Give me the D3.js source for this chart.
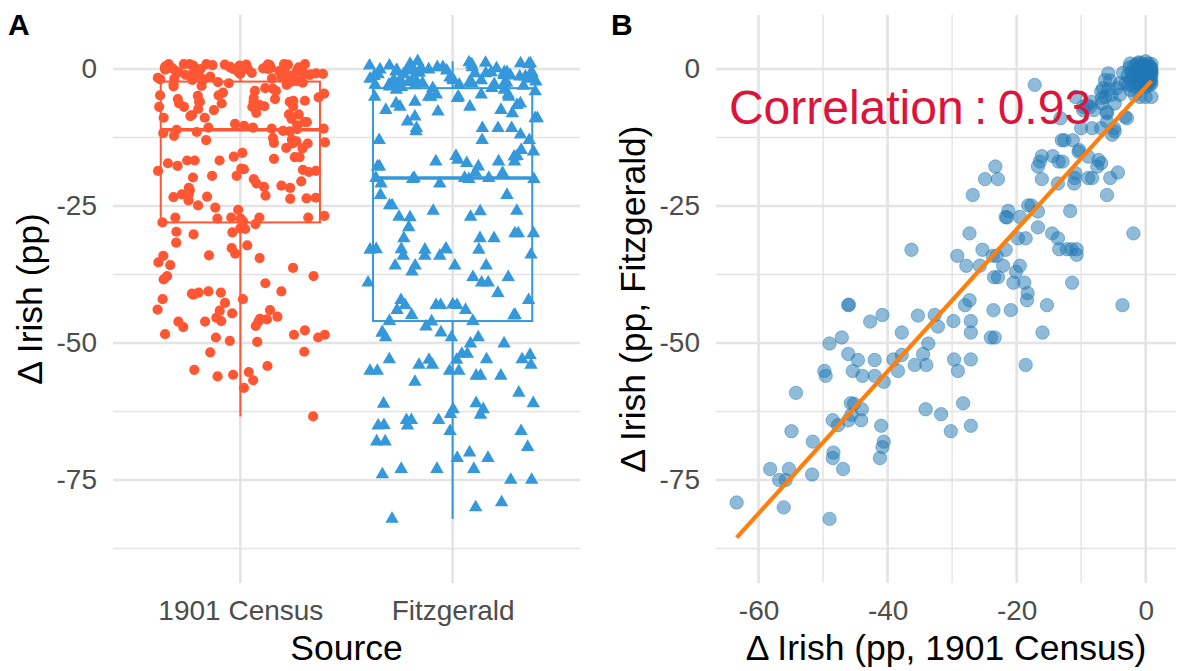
<!DOCTYPE html>
<html>
<head>
<meta charset="utf-8">
<script src="https://cdn.jsdelivr.net/npm/d3@7"></script>
<style>
  body { margin: 0; background: #fff; }
  svg text { font-family: "Liberation Sans", Arial, Helvetica, sans-serif; }
</style>
</head>
<body>
<svg id="chart" width="1178" height="671"></svg>
<script>
// ---- data: change in Irish speakers (percentage points), one entry per district ----
const sources = ["1901 Census", "Fitzgerald"];

const censusChange = [
  -63.4,-56.1,-49.0,-58.2,-55.3,-56.8,-55.8,-51.7,-54.9,-51.6,-48.4,-48.5,-46.9,-40.6,-40.8,-41.2,-41.0,-54.2,-45.7,-45.2,
  -44.0,-45.6,-48.5,-47.7,-46.1,-44.1,-34.1,-49.8,-49.6,-49.0,-47.1,-46.1,-44.6,-42.0,-45.4,-43.9,-42.0,-40.6,-39.1,-37.8,
  -38.4,-35.8,-34.5,-34.0,-33.7,-46.1,-46.0,-42.7,-40.8,-35.3,-37.8,
  -32.7,-32.2,-29.8,-28.0,-27.3,-27.1,-27.1,-23.6,-20.9,-24.0,-23.4,-18.4,-15.3,-16.0,-3.6,-29.7,-27.1,-29.1,-18.6,-31.7,
  -28.3,-30.2,-27.1,
  -26.8,-24.9,-23.3,-22.9,-21.3,-21.7,-21.5,-19.5,-18.2,-17.7,-16.7,-16.7,-27.3,-19.8,-18.6,-29.2,-25.3,-27.8,-25.7,-23.7,
  -23.1,-21.7,-22.1,-23.5,-22.9,-20.5,-19.5,-20.1,-18.8,-18.3,-14.5,-13.6,-13.4,-12.2,-11.5,-10.7,-11.7,-11.4,-10.7,-36.3,
  -1.9,
  -16.1,-16.4,-16.7,-16.1,-14.4,-13.5,-12.9,-13.6,-13.0,-12.6,-11.3,-10.4,-11.0,-11.1,-17.2,-10.9,-13.2,-9.7,-8.6,-8.0,
  -10.0,-8.3,-6.9,-4.9,-5.2,-6.3,-6.0,-3.2,-10.3,-10.9,-8.9,-8.9,-8.3,-7.5,-6.9,-5.5,-4.3,-6.0,-7.3,
  -5.8,-3.5,-6.3,-5.5,-4.0,-6.6,-5.8,-4.5,-3.1,-6.9,-5.3,-4.0,-2.4,-1.7,-0.9,0.0,0.9,-6.8,-9.1,-8.4,
  -6.8,-4.8,-9.7,-6.0,-2.9,-6.0,-4.8,
  -2.8,-2.6,-2.5,-2.3,-2.2,-2.0,-1.9,-1.8,-1.7,-1.6,-1.5,-1.4,-1.3,-1.2,-1.1,-1.0,-0.9,-0.9,-0.8,-0.7,
  -0.7,-0.6,-0.5,-0.5,-0.4,-0.4,-0.3,-0.3,-0.2,-0.2,-0.1,-0.1,0.0,0.0,0.0,0.1,0.1,0.2,0.2,0.3,
  0.3,0.4,0.4,0.5,0.5,0.6,0.6,0.7,0.7,0.8,0.8,0.9,0.9,0.9,0.85,0.8,0.9,0.9,-2.4,-1.1
];

const fitzgeraldChange = [
  -79.1,-80.0,-82.1,-73.0,-73.0,-75.0,-75.0,-74.0,-66.1,-68.0,-70.0,-71.0,-73.0,-68.0,-69.0,-71.0,-65.1,-59.1,-61.0,-61.1,
  -62.1,-63.1,-64.1,-65.0,-64.1,-64.1,-62.1,-55.1,-56.0,-50.1,-49.0,-52.0,-53.1,-53.1,-55.1,-56.0,-56.0,-57.1,-53.0,-52.2,
  -55.1,-54.0,-52.0,-54.0,-50.1,-43.1,-43.0,-46.1,-44.9,-45.0,-48.1,
  -44.9,-47.0,-46.0,-43.1,-42.2,-46.0,-48.1,-44.0,-44.0,-49.0,-49.0,-42.2,-43.1,-48.1,-43.1,-53.0,-53.0,-55.1,-54.0,-63.0,
  -61.0,-66.1,-65.1,
  -23.0,-20.1,-17.8,-20.1,-25.9,-27.0,-27.1,-27.0,-24.9,-24.9,-26.0,-28.9,-30.0,-30.9,-30.9,-34.1,-33.0,-35.9,-35.9,-34.1,
  -34.1,-33.0,-35.9,-38.0,-38.0,-39.0,-35.9,-37.0,-39.0,-40.9,-30.0,-30.9,-32.9,-32.9,-32.9,-32.9,-25.9,-39.0,-33.9,-33.0,
  -30.0,
  -15.9,-16.9,-17.8,-20.1,-15.9,-16.9,-16.9,-20.9,-13.0,-13.0,-13.0,-15.1,-19.9,-20.9,-2.9,-5.1,-9.0,-6.9,-6.9,-7.5,
  -10.8,-10.8,-10.8,-10.8,-12.0,-5.1,-8.1,-8.7,-14.8,-19.0,-16.0,-19.9,-19.9,-17.8,-17.2,-19.9,-18.9,-23.0,-16.6,
  -0.8,-0.7,-2.0,-2.1,-2.6,-3.5,-3.8,-3.5,-2.6,-4.1,-4.7,-4.7,-3.8,-4.7,-5.1,-5.1,-5.1,-5.3,-6.6,-6.0,
  -6.3,-6.3,-7.5,-7.8,-9.0,-9.6,-11.4,
  -1.2,-2.9,0.3,-2.0,-0.6,-3.1,-1.4,0.6,-2.5,-0.2,-1.8,0.9,-3.3,-1.0,-2.2,0.2,-0.7,-2.8,1.1,-1.5,
  -0.3,-2.4,0.5,-1.1,-3.0,-0.1,-1.9,0.8,-0.6,-2.6,-1.3,0.3,-0.9,1.4,-2.1,-0.2,-3.2,0.6,-1.6,-0.5,
  -2.5,1.0,-1.1,0.1,-1.9,-0.8,-2.9,0.4,-1.4,-0.3,-2.3,0.9,-1.0,-0.1,-1.8,0.3,-0.6,-2.7,1.0,1.2
];

// box-plot summaries per source: lower hinge, median, upper hinge
const boxLowerHinge = [-28.0, -46.0];
const boxMedian     = [-11.1, -19.9];
const boxUpperHinge = [-2.3, -3.5];

// linear fit of Fitzgerald on census change: [intercept, slope]
const fitCoefficients = [-3.34, 1.296];
const correlation = 0.93;

// axis ticks
const yMajorTicks = [0, -25, -50, -75];
const yMinorTicks = [-12.5, -37.5, -62.5, -87.5];
const xMajorTicksB = [-60, -40, -20, 0];
const xMinorTicksB = [-50, -30, -10];

// ---- layout ----
const colors = { "1901 Census": "#FF5733", "Fitzgerald": "#3498DB" };
const scatterColor = "#1F77B4";
const gridColor = "#E4E4E4";

const panelA = { left: 113, right: 580, top: 15, bottom: 583 };
const panelB = { left: 716, right: 1176, top: 15, bottom: 583 };

const svg = d3.select("#chart");

const y = d3.scaleLinear().domain([-93.8, 9.85]).range([panelA.bottom, panelA.top]);
const xA = d3.scalePoint().domain(sources).range([panelA.left, panelA.right]).padding(0.6);
const xB = d3.scaleLinear().domain([-66.6, 4.7]).range([panelB.left, panelB.right]);

const tickFont = 28, titleFont = 35.5;

function hGrid(panel, ticks, width) {
  svg.append("g").selectAll("line").data(ticks).join("line")
    .attr("x1", panel.left).attr("x2", panel.right)
    .attr("y1", d => y(d)).attr("y2", d => y(d))
    .attr("stroke", gridColor).attr("stroke-width", width);
}

// ---------- Panel A: distributions by source ----------
hGrid(panelA, yMinorTicks, 1.4);
hGrid(panelA, yMajorTicks, 2.6);
svg.append("g").selectAll("line").data(sources).join("line")
  .attr("x1", d => xA(d)).attr("x2", d => xA(d))
  .attr("y1", panelA.top).attr("y2", panelA.bottom)
  .attr("stroke", gridColor).attr("stroke-width", 2.6);

const step = xA.step();
const boxW = step * 0.75;
const seriesBySource = [censusChange, fitzgeraldChange];

const boxes = svg.append("g");
sources.forEach((s, i) => {
  const cx = xA(s), col = colors[s];
  const vals = seriesBySource[i];
  const lo = d3.min(vals), hi = d3.max(vals);
  const g = boxes.append("g").attr("stroke", col).attr("fill", "none");
  g.append("line").attr("x1", cx).attr("x2", cx).attr("y1", y(boxLowerHinge[i])).attr("y2", y(lo)).attr("stroke-width", 2);
  g.append("line").attr("x1", cx).attr("x2", cx).attr("y1", y(boxUpperHinge[i])).attr("y2", y(hi)).attr("stroke-width", 2);
  g.append("rect").attr("x", cx - boxW / 2).attr("width", boxW)
    .attr("y", y(boxUpperHinge[i])).attr("height", y(boxLowerHinge[i]) - y(boxUpperHinge[i]))
    .attr("stroke-width", 2);
  g.append("line").attr("x1", cx - boxW / 2).attr("x2", cx + boxW / 2)
    .attr("y1", y(boxMedian[i])).attr("y2", y(boxMedian[i])).attr("stroke-width", 3.4);
});

// horizontal jitter, reproducible
const jitterRand = d3.randomUniform.source(d3.randomLcg(0.3217))(-0.4, 0.4);

svg.append("g").selectAll("circle").data(censusChange).join("circle")
  .attr("cx", () => xA(sources[0]) + jitterRand() * step)
  .attr("cy", d => y(d))
  .attr("r", 5.1)
  .attr("fill", colors[sources[0]]);

const tri = d3.symbol().type(d3.symbolTriangle).size(78);
svg.append("g").selectAll("path").data(fitzgeraldChange).join("path")
  .attr("transform", d => `translate(${xA(sources[1]) + jitterRand() * step},${y(d)})`)
  .attr("d", tri)
  .attr("fill", colors[sources[1]]);

// axes A
const axisLeftA = svg.append("g").attr("transform", `translate(${panelA.left},0)`)
  .call(d3.axisLeft(y).tickValues(yMajorTicks).tickSize(0).tickPadding(16).tickFormat(d => String(d)));
const axisBottomA = svg.append("g").attr("transform", `translate(0,${panelA.bottom})`)
  .call(d3.axisBottom(xA).tickSize(0).tickPadding(17));

// ---------- Panel B: census vs Fitzgerald ----------
hGrid(panelB, yMinorTicks, 1.4);
hGrid(panelB, yMajorTicks, 2.6);
svg.append("g").selectAll("line").data(xMinorTicksB).join("line")
  .attr("x1", d => xB(d)).attr("x2", d => xB(d))
  .attr("y1", panelB.top).attr("y2", panelB.bottom)
  .attr("stroke", gridColor).attr("stroke-width", 1.4);
svg.append("g").selectAll("line").data(xMajorTicksB).join("line")
  .attr("x1", d => xB(d)).attr("x2", d => xB(d))
  .attr("y1", panelB.top).attr("y2", panelB.bottom)
  .attr("stroke", gridColor).attr("stroke-width", 2.6);

const pairs = censusChange.map((c, i) => [c, fitzgeraldChange[i]]);
svg.append("g").selectAll("circle").data(pairs).join("circle")
  .attr("cx", d => xB(d[0]))
  .attr("cy", d => y(d[1]))
  .attr("r", 6.7)
  .attr("fill", scatterColor).attr("fill-opacity", 0.5)
  .attr("stroke", scatterColor).attr("stroke-opacity", 0.45).attr("stroke-width", 1);

const xExtent = d3.extent(censusChange);
const fitLine = d3.line().x(d => xB(d)).y(d => y(fitCoefficients[0] + fitCoefficients[1] * d));
svg.append("path").datum(xExtent)
  .attr("d", fitLine)
  .attr("stroke", "#FF7F0E").attr("stroke-width", 4.2).attr("fill", "none");

svg.append("text")
  .attr("x", xB(-64.6)).attr("y", 124)
  .attr("font-size", 48).attr("fill", "#DC143C")
  .attr("word-spacing", "-3px")
  .text(`Correlation : ${correlation.toFixed(2)}`);

const axisLeftB = svg.append("g").attr("transform", `translate(${panelB.left},0)`)
  .call(d3.axisLeft(y).tickValues(yMajorTicks).tickSize(0).tickPadding(16).tickFormat(d => String(d)));
const axisBottomB = svg.append("g").attr("transform", `translate(0,${panelB.bottom})`)
  .call(d3.axisBottom(xB).tickValues(xMajorTicksB).tickSize(0).tickPadding(17).tickFormat(d => String(d)));

[axisLeftA, axisBottomA, axisLeftB, axisBottomB].forEach(a => {
  a.select(".domain").remove();
  a.attr("font-family", null).attr("font-size", null);
  a.selectAll("text").attr("font-size", tickFont).attr("fill", "#4D4D4D");
});

// ---------- titles ----------
function title(txt, x, yy, rotate) {
  svg.append("text")
    .attr("transform", `translate(${x},${yy})` + (rotate ? " rotate(-90)" : ""))
    .attr("text-anchor", "middle").attr("font-size", titleFont).attr("fill", "#000")
    .text(txt);
}
title("Source", (panelA.left + panelA.right) / 2, 660, false);
title("Δ Irish (pp, 1901 Census)", (panelB.left + panelB.right) / 2, 660, false);
title("Δ Irish (pp)", 42, (panelA.top + panelA.bottom) / 2, true);
title("Δ Irish (pp, Fitzgerald)", 645, (panelB.top + panelB.bottom) / 2, true);

svg.append("text").attr("x", 8).attr("y", 35).attr("font-size", 30).attr("font-weight", "bold").text("A");
svg.append("text").attr("x", 611).attr("y", 35).attr("font-size", 30).attr("font-weight", "bold").text("B");
</script>
</body>
</html>
